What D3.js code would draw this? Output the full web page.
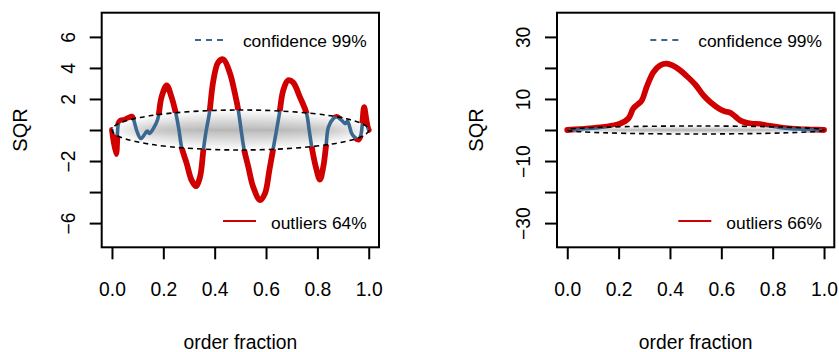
<!DOCTYPE html>
<html>
<head>
<meta charset="utf-8">
<script src="https://cdn.jsdelivr.net/npm/d3@7"></script>
<style>
  body { margin: 0; background: #fff; }
  svg text { font-family: "Liberation Sans", Arial, Helvetica, sans-serif; fill: #000; }
</style>
</head>
<body>
<svg id="chart" width="839" height="352"></svg>
<script>
var xTicks = [0, 0.2, 0.4, 0.6, 0.8, 1.0];
var confZ = 2.576; // 99% band

// left panel
var orderLeft = [0, 0.016, 0.025, 0.031, 0.05, 0.067, 0.077, 0.083, 0.096, 0.112, 0.129, 0.138, 0.146, 0.161, 0.178,
  0.193, 0.213, 0.232, 0.249, 0.261, 0.271, 0.291, 0.31, 0.327, 0.343, 0.356, 0.366, 0.379, 0.395, 0.414, 0.434,
  0.46, 0.479, 0.492, 0.503, 0.514, 0.531, 0.55, 0.577, 0.596, 0.613, 0.628, 0.641, 0.652, 0.667, 0.686, 0.706,
  0.732, 0.758, 0.768, 0.778, 0.794, 0.81, 0.823, 0.834, 0.843, 0.862, 0.875, 0.895, 0.908, 0.917, 0.934, 0.947,
  0.96, 0.969, 0.974, 0.982, 0.989, 0.996, 1.0];
var sqrLeft = [0, -1.56, 0.41, 0.58, 0.67, 0.8, 0.86, 0.73, -0.02, -0.55, -0.23, -0.06, -0.23, 0.09, 0.68,
  2.12, 2.87, 2.12, 1.05, 0, -1.09, -2.16, -3.23, -3.62, -3.02, -1.3, -0.13, 1.05, 3.2, 4.37, 4.55,
  3.63, 2.34, 1.27, 0, -1.2, -2.38, -3.67, -4.52, -4.09, -2.59, -1.2, 0, 1.05, 2.55, 3.2, 3.05,
  2.12, 1.05, 0, -1.09, -2.38, -3.19, -2.38, -0.98, 0.19, 0.73, 0.84, 0.62, 0.41, 0.56, -0.23, -0.49,
  -0.62, -0.34, 0.19, 1.48, 0.84, 0.19, 0];
var yTicksLeft = [-6, -4, -2, 0, 2, 4, 6];
var yLabelsLeft = ["\u22126", "", "\u22122", "", "2", "4", "6"];

// right panel
var orderRight = [0, 0.05, 0.1, 0.147, 0.175, 0.205, 0.238, 0.257, 0.275, 0.29, 0.309, 0.335, 0.361, 0.387,
  0.41, 0.44, 0.465, 0.5, 0.53, 0.56, 0.595, 0.615, 0.634, 0.655, 0.673, 0.7, 0.725, 0.75, 0.78, 0.816, 0.85,
  0.9, 0.95, 1.0];
var sqrRight = [0, 0.3, 0.6, 1.0, 1.4, 2.0, 3.7, 6.9, 8.3, 9.5, 13.8, 18.6, 20.8, 21.4,
  20.8, 19.2, 17.4, 14.5, 11.2, 8.8, 6.7, 6.0, 5.6, 4.3, 3.1, 2.3, 2.0, 1.9, 1.4, 1.0, 0.6,
  0.3, 0.15, 0];
var yTicksRight = [-30, -20, -10, 0, 10, 20, 30];
var yLabelsRight = ["\u221230", "", "\u221210", "", "10", "", "30"];

var legendLabels = ["confidence 99%", "outliers 64%", "outliers 66%"];

var red = "#d10000";
var blue = "#3b6890";

var svg = d3.select("#chart");

var drawPanel = function(p) {
    var x = d3.scaleLinear().domain([-0.04, 1.04]).range([p.x0, p.x1]);
    var y = d3.scaleLinear().domain([-p.ymax, p.ymax]).range([p.y1, p.y0]);
    var g = svg.append("g");

    var cx = x(0.5), cy = y(0), rx = x(1) - x(0.5);
    var ry = y(0) - y(confZ * 0.5);

    // gray shading inside the band
    var nLayers = 30;
    for (var k = nLayers; k >= 1; k--) {
        var s = Math.pow(k / nLayers, 1.5);
        g.append("ellipse")
            .attr("cx", cx).attr("cy", cy)
            .attr("rx", rx * Math.pow(s, 0.3))
            .attr("ry", ry * s)
            .attr("fill", "#8a8a8a")
            .attr("fill-opacity", 0.023);
    }

    // clip for red = outside the band
    var clipId = "out" + p.id;
    var outside = "M" + p.x0 + "," + p.y0 + "H" + p.x1 + "V" + p.y1 + "H" + p.x0 + "Z"
        + "M" + (cx - rx) + "," + cy
        + "A" + rx + "," + ry + " 0 1 0 " + (cx + rx) + "," + cy
        + "A" + rx + "," + ry + " 0 1 0 " + (cx - rx) + "," + cy + "Z";
    svg.append("defs").append("clipPath").attr("id", clipId)
        .append("path").attr("d", outside).attr("clip-rule", "evenodd");

    var pts = p.t.map(function(t, i) { return [t, p.v[i]]; });
    var line = d3.line()
        .x(function(d) { return x(d[0]); })
        .y(function(d) { return y(d[1]); })
        .curve(d3.curveCatmullRom.alpha(0.5));

    g.append("path").attr("d", line(pts))
        .attr("fill", "none").attr("stroke", blue).attr("stroke-width", 3.6)
        .attr("stroke-linejoin", "round").attr("stroke-linecap", "round");
    g.append("path").attr("d", line(pts))
        .attr("clip-path", "url(#" + clipId + ")")
        .attr("fill", "none").attr("stroke", red).attr("stroke-width", 5.8)
        .attr("stroke-linejoin", "round").attr("stroke-linecap", "round");

    // dashed band outline
    g.append("ellipse")
        .attr("cx", cx).attr("cy", cy).attr("rx", rx).attr("ry", ry)
        .attr("fill", "none").attr("stroke", "#000").attr("stroke-width", 1.6)
        .attr("stroke-dasharray", "5,4");

    // box
    g.append("rect")
        .attr("x", p.x0).attr("y", p.y0)
        .attr("width", p.x1 - p.x0).attr("height", p.y1 - p.y0)
        .attr("fill", "none").attr("stroke", "#000").attr("stroke-width", 2);

    // x axis
    var xa = g.append("g").attr("transform", "translate(0," + p.y1 + ")")
        .call(d3.axisBottom(x).tickValues(xTicks).tickSize(12).tickFormat(d3.format(".1f")));
    xa.select(".domain").remove();
    xa.selectAll("line").attr("stroke-width", 2);
    xa.selectAll("text").attr("y", 296 - p.y1).attr("dy", 0)
        .style("font-size", "19.3px").style("font-family", "Liberation Sans, Arial, sans-serif");

    // y axis
    var ya = g.append("g").attr("transform", "translate(" + p.x0 + ",0)")
        .call(d3.axisLeft(y).tickValues(p.yTicks).tickSize(12)
            .tickFormat(function(d, i) { return p.yLabels[i]; }));
    ya.select(".domain").remove();
    ya.selectAll("line").attr("stroke-width", 2);
    ya.selectAll("text").attr("x", 0).attr("dy", 0)
        .attr("text-anchor", "middle")
        .attr("transform", "translate(-27,0) rotate(-90)")
        .style("font-size", "19.3px").style("font-family", "Liberation Sans, Arial, sans-serif");

    // axis titles
    g.append("text").attr("x", (p.x0 + p.x1) / 2).attr("y", 349)
        .attr("text-anchor", "middle").style("font-size", "19.3px")
        .text("order fraction");
    g.append("text")
        .attr("transform", "translate(" + (p.x0 - 74.4) + "," + ((p.y0 + p.y1) / 2) + ") rotate(-90)")
        .attr("text-anchor", "middle").style("font-size", "20px")
        .text("SQR");

    // legends
    g.append("line").attr("x1", p.x1 - 184).attr("x2", p.x1 - 155).attr("y1", 40).attr("y2", 40)
        .attr("stroke", blue).attr("stroke-width", 2).attr("stroke-dasharray", "6,5");
    g.append("text").attr("x", p.x1 - 12.3).attr("y", 46.5).attr("text-anchor", "end")
        .style("font-size", "17.4px").text(legendLabels[0]);
    g.append("line").attr("x1", p.x1 - 156).attr("x2", p.x1 - 123).attr("y1", 221).attr("y2", 221)
        .attr("stroke", red).attr("stroke-width", 2);
    g.append("text").attr("x", p.x1 - 12.3).attr("y", 228.5).attr("text-anchor", "end")
        .style("font-size", "17.4px").text(p.outLabel);
};

drawPanel({ id: "L", x0: 101.7, x1: 379, y0: 12.7, y1: 247.3, ymax: 7.56,
    t: orderLeft, v: sqrLeft, yTicks: yTicksLeft, yLabels: yLabelsLeft, outLabel: legendLabels[1] });
drawPanel({ id: "R", x0: 557, x1: 834.3, y0: 12.7, y1: 247.3, ymax: 37.8,
    t: orderRight, v: sqrRight, yTicks: yTicksRight, yLabels: yLabelsRight, outLabel: legendLabels[2] });
</script>
</body>
</html>
